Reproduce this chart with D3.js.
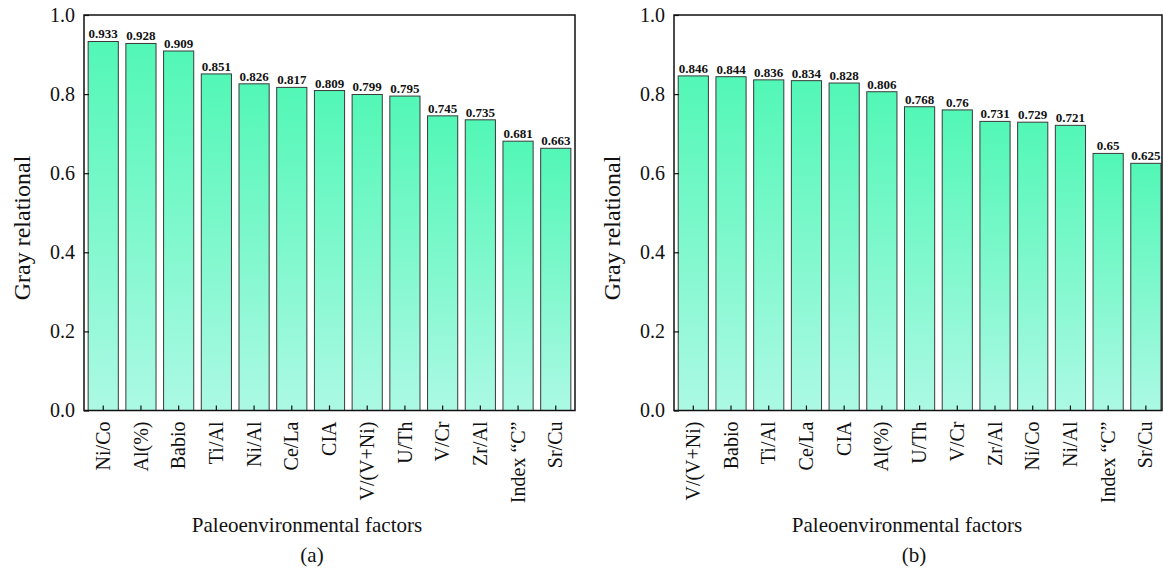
<!DOCTYPE html>
<html>
<head>
<meta charset="utf-8">
<script src="https://cdn.jsdelivr.net/npm/d3@7"></script>
<style>
  html, body { margin: 0; padding: 0; background: #fff; }
  svg { display: block; }
  text { font-family: "Times New Roman", "Liberation Serif", "DejaVu Serif", serif; fill: #111; }
</style>
</head>
<body>
<svg id="chart" width="1163" height="569"></svg>
<script>
// Grey relational degree of each paleoenvironmental factor, two sample sets
const factorsA = ["Ni/Co", "Al(%)", "Babio", "Ti/Al", "Ni/Al", "Ce/La", "CIA", "V/(V+Ni)", "U/Th", "V/Cr", "Zr/Al", "Index \u201CC\u201D", "Sr/Cu"];
const gradesA  = [0.933, 0.928, 0.909, 0.851, 0.826, 0.817, 0.809, 0.799, 0.795, 0.745, 0.735, 0.681, 0.663];

const factorsB = ["V/(V+Ni)", "Babio", "Ti/Al", "Ce/La", "CIA", "Al(%)", "U/Th", "V/Cr", "Zr/Al", "Ni/Co", "Ni/Al", "Index \u201CC\u201D", "Sr/Cu"];
const gradesB  = [0.846, 0.844, 0.836, 0.834, 0.828, 0.806, 0.768, 0.76, 0.731, 0.729, 0.721, 0.65, 0.625];

const yTicks = [0, 0.2, 0.4, 0.6, 0.8, 1.0];
const panelTags = ["(a)", "(b)"];

const svg = d3.select("#chart");

// vertical mint gradient shared by all bars
const defs = svg.append("defs");
const grad = defs.append("linearGradient")
  .attr("id", "barFill").attr("x1", 0).attr("y1", 0).attr("x2", 0).attr("y2", 1);
grad.append("stop").attr("offset", "0%").attr("stop-color", "#52f7b6");
grad.append("stop").attr("offset", "100%").attr("stop-color", "#acf9e4");

function panel(opts) {
  const { left, right, top, bottom, cats, vals, tag, titleX, tagX, align } = opts;

  const x = d3.scaleBand().domain(cats).range([left, right])
    .paddingInner(0.2).paddingOuter(opts.outer).align(align);
  const y = d3.scaleLinear().domain([0, 1]).range([bottom, top]);

  const g = svg.append("g");

  // bars
  g.selectAll("rect.bar").data(cats).join("rect")
    .attr("class", "bar")
    .attr("x", d => x(d))
    .attr("width", x.bandwidth())
    .attr("y", (d, i) => y(vals[i]))
    .attr("height", (d, i) => y(0) - y(vals[i]))
    .attr("fill", "url(#barFill)")
    .attr("stroke", "#3a3a3a")
    .attr("stroke-width", 1);

  // value labels on top of bars
  g.selectAll("text.val").data(cats).join("text")
    .attr("class", "val")
    .attr("x", d => x(d) + x.bandwidth() / 2)
    .attr("y", (d, i) => y(vals[i]) - 3)
    .attr("text-anchor", "middle")
    .attr("font-size", 13)
    .attr("font-weight", "bold")
    .text((d, i) => String(vals[i]));

  // left axis, ticks pointing inward
  const yAxis = d3.axisLeft(y).tickValues(yTicks).tickFormat(d3.format(".1f"))
    .tickSizeInner(-5).tickSizeOuter(0).tickPadding(9);
  const ya = g.append("g").attr("transform", `translate(${left},0)`).call(yAxis);
  ya.select(".domain").remove();
  ya.selectAll("line").attr("stroke", "#111").attr("stroke-width", 1.2);
  ya.selectAll("text").attr("font-size", 20).attr("fill", "#111")
    .attr("font-family", "\"Times New Roman\", \"Liberation Serif\", serif");

  // bottom axis, ticks pointing inward, labels rotated
  const xAxis = d3.axisBottom(x).tickSizeInner(-5).tickSizeOuter(0).tickPadding(0);
  const xa = g.append("g").attr("transform", `translate(0,${bottom})`).call(xAxis);
  xa.select(".domain").remove();
  xa.selectAll("line").attr("stroke", "#111").attr("stroke-width", 1.2);
  xa.selectAll("text")
    .attr("font-size", 20).attr("fill", "#111")
    .attr("font-family", "\"Times New Roman\", \"Liberation Serif\", serif")
    .attr("transform", "rotate(-90)")
    .attr("x", -11).attr("y", 0).attr("dy", "0.33em")
    .attr("text-anchor", "end");

  // frame
  g.append("rect")
    .attr("x", left).attr("y", top)
    .attr("width", right - left).attr("height", bottom - top)
    .attr("fill", "none").attr("stroke", "#111").attr("stroke-width", 1.5);

  // axis titles
  g.append("text")
    .attr("transform", `translate(${left - 62},${228}) rotate(-90)`)
    .attr("text-anchor", "middle").attr("dy", "0.35em")
    .attr("font-size", 24)
    .text("Gray relational");

  g.append("text")
    .attr("x", titleX).attr("y", 532)
    .attr("text-anchor", "middle").attr("font-size", 21)
    .text("Paleoenvironmental factors");

  g.append("text")
    .attr("x", tagX).attr("y", 562)
    .attr("text-anchor", "middle").attr("font-size", 21)
    .text(tag);
}

panel({ left: 84, right: 575, top: 15, bottom: 410.5, cats: factorsA, vals: gradesA,
        tag: panelTags[0], titleX: 307, tagX: 312, outer: 0.11, align: 0.5 });
panel({ left: 674, right: 1162, top: 15, bottom: 410.5, cats: factorsB, vals: gradesB,
        tag: panelTags[1], titleX: 907, tagX: 914, outer: 0.07, align: 0.8 });
</script>
</body>
</html>
